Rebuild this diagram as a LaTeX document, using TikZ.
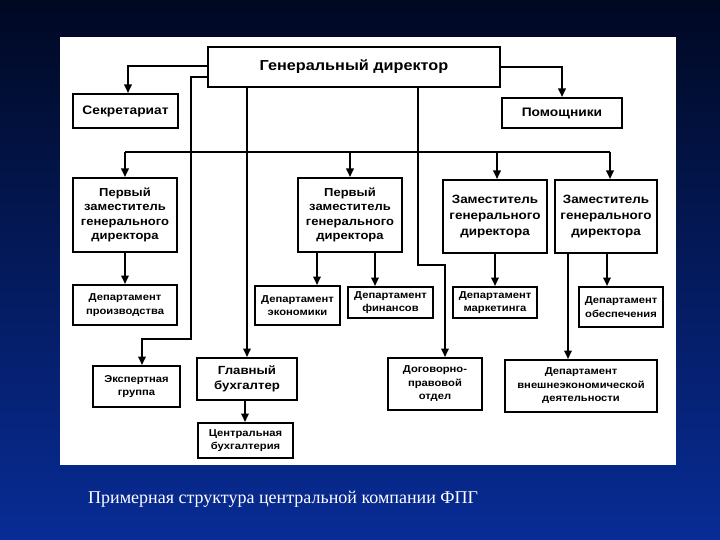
\documentclass[tikz,border=0pt]{standalone}
\usepackage{fontspec}
\setmainfont{Liberation Serif}
\newfontfamily\bx[FakeStretch=1.12]{Liberation Sans Bold}
\usetikzlibrary{arrows.meta}
\definecolor{bgtop}{RGB}{0,8,34}
\definecolor{bgmid}{RGB}{6,30,110}
\definecolor{bgbot}{RGB}{8,44,150}
\tikzset{
  box/.style={draw, line width=2pt, fill=white, align=center, inner sep=0pt},
  arr/.style={-{Triangle[width=7.5pt,length=8.5pt]}, line width=2pt},
  ln/.style={line width=2pt},
  fA/.style={font=\fontsize{14.5}{17}\bx},
  fB/.style={font=\fontsize{11.6}{14.5}\bx},
  fS/.style={font=\fontsize{12.3}{15}\bx},
  fC/.style={font=\fontsize{12}{16}\bx},
  fD/.style={font=\fontsize{10}{13.5}\bx},
  fE/.style={font=\fontsize{11.8}{15}\bx},
}
\begin{document}
\begin{tikzpicture}[x=1pt,y=-1pt]
\useasboundingbox (0,0) rectangle (720,540);
\shade[top color=bgtop, middle color=bgmid, bottom color=bgbot] (0,0) rectangle (720,540);
\fill[white] (60,37) rectangle (676,465);

% nodes
\node[box,fA,minimum width=292,minimum height=40] (gd) at (354,67) {Генеральный директор};
\node[box,fS,minimum width=105,minimum height=34] (sec) at (125.5,111) {Секретариат};
\node[box,fS,minimum width=120,minimum height=30] (pom) at (562,113) {Помощники};
\node[box,fB,minimum width=104,minimum height=74] (pz1) at (125,215) {Первый\\заместитель\\генерального\\директора};
\node[box,fB,minimum width=104,minimum height=74] (pz2) at (350,215) {Первый\\заместитель\\генерального\\директора};
\node[box,fC,minimum width=104,minimum height=73] (z1) at (495,216.5) {Заместитель\\генерального\\директора};
\node[box,fC,minimum width=102,minimum height=73] (z2) at (606,216.5) {Заместитель\\генерального\\директора};
\node[box,fD,minimum width=104,minimum height=40] (dprod) at (125,305) {Департамент\\производства};
\node[box,fD,minimum width=85,minimum height=39] (decon) at (297.5,305.5) {Департамент\\экономики};
\node[box,fD,minimum width=85,minimum height=31] (dfin) at (390.5,302.5) {Департамент\\финансов};
\node[box,fD,minimum width=84,minimum height=31] (dmark) at (495,302.5) {Департамент\\маркетинга};
\node[box,fD,minimum width=84,minimum height=40] (dob) at (621,307) {Департамент\\обеспечения};
\node[box,fE,minimum width=100,minimum height=42] (gb) at (247,379) {Главный\\бухгалтер};
\node[box,fD,minimum width=95,minimum height=35] (cb) at (245.5,440.5) {Центральная\\бухгалтерия};
\node[box,fD,minimum width=87,minimum height=41] (exp) at (136.5,386.5) {Экспертная\\группа};
\node[box,fD,minimum width=94,minimum height=52] (dog) at (435,384) {Договорно-\\правовой\\отдел};
\node[box,fD,minimum width=152,minimum height=52] (dved) at (581,386) {Департамент\\внешнеэкономической\\деятельности};

% helper coordinates
\coordinate (bus) at (0,152);
\coordinate (j1) at (191,339);
\coordinate (j2) at (418,265);

% connectors from general director
\draw[arr] ([yshift=1]gd.west) -| ([xshift=2.5]sec.north);
\draw[arr] (gd.east) -| (pom.north);
\draw[arr] (gb.north |- gd.south) -- (gb.north);
\draw[ln] (pz1.north |- bus) -- ([xshift=4]z2.north |- bus);
\draw[arr] (pz1.north |- bus) -- (pz1.north);
\draw[arr] (pz2.north |- bus) -- (pz2.north);
\draw[arr] ([xshift=2]z1.north |- bus) -- ([xshift=2]z1.north);
\draw[arr] ([xshift=4]z2.north |- bus) -- ([xshift=4]z2.north);
\draw[arr] ([yshift=-10]gd.west) -| (j1) -| ([xshift=5.5]exp.north);
\draw[arr] (j2 |- gd.south) -- (j2) -| ([xshift=10]dog.north);

% subordinate connectors
\draw[arr] (pz1.south) -- (dprod.north);
\draw[arr] ([xshift=-33]pz2.south) -- ([xshift=-33]pz2.south |- decon.north);
\draw[arr] ([xshift=25]pz2.south) -- ([xshift=25]pz2.south |- dfin.north);
\draw[arr] (z1.south) -- (z1.south |- dmark.north);
\draw[arr] ([xshift=1]z2.south) -- ([xshift=1]z2.south |- dob.north);
\draw[arr] ([xshift=-38]z2.south) -- ([xshift=-38]z2.south |- dved.north);
\draw[arr] ([xshift=-2]gb.south) -- ([xshift=-2]gb.south |- cb.north);

% caption
\node[anchor=base west, text=white, font=\fontsize{18}{22}\selectfont, inner sep=0pt] (cap) at (88,503) {Примерная структура центральной компании ФПГ};
\end{tikzpicture}
\end{document}
